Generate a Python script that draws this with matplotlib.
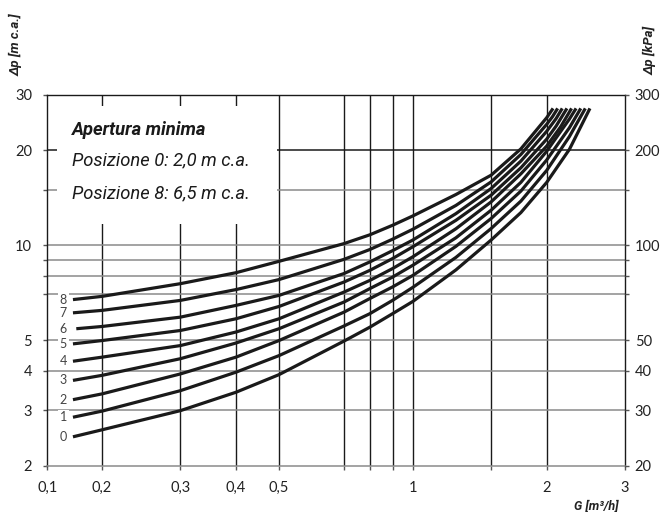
import matplotlib
matplotlib.use('Agg')
import matplotlib.pyplot as plt
from matplotlib.patches import Rectangle

# flow G [m3/h] and pressure drop dp [m c.a.], one pair of lists per position
g_low = [0.2, 0.3, 0.4, 0.5, 0.7, 0.8, 0.9, 1.0, 1.25, 1.5, 1.75, 2.0]

g0 = [0.172] + g_low + [2.25, 2.502]
dp0 = [2.47, 2.60, 2.99, 3.42, 3.89, 4.97, 5.50, 6.07, 6.64, 8.36, 10.4, 12.71, 15.84, 20.17, 27.2]
g1 = [0.172] + g_low + [2.25, 2.443]
dp1 = [2.85, 2.98, 3.46, 3.96, 4.47, 5.55, 6.07, 6.69, 7.36, 9.16, 11.31, 13.82, 17.29, 22.15, 27.2]
g2 = [0.172] + g_low + [2.25, 2.386]
dp2 = [3.24, 3.38, 3.91, 4.42, 4.99, 6.14, 6.78, 7.38, 8.03, 9.93, 12.17, 14.87, 18.66, 23.62, 27.2]
g3 = [0.172] + g_low + [2.25, 2.329]
dp3 = [3.73, 3.87, 4.37, 4.90, 5.44, 6.61, 7.29, 7.93, 8.65, 10.57, 12.93, 15.85, 19.89, 25.17, 27.2]
g4 = [0.172] + g_low + [2.15, 2.275]
dp4 = [4.29, 4.42, 4.81, 5.31, 5.85, 7.11, 7.74, 8.44, 9.20, 11.29, 13.74, 16.87, 20.65, 23.78, 27.2]
g5 = [0.172] + g_low + [2.1, 2.221]
dp5 = [4.87, 4.99, 5.37, 5.85, 6.40, 7.65, 8.33, 9.08, 9.90, 12.01, 14.43, 17.63, 21.73, 23.90, 27.2]
g6 = [0.175] + g_low + [2.1, 2.168]
dp6 = [5.44, 5.53, 5.92, 6.45, 6.94, 8.14, 8.86, 9.62, 10.4, 12.61, 15.15, 18.51, 23.01, 25.25, 27.2]
g7 = [0.172] + g_low + [2.06, 2.117]
dp7 = [6.11, 6.22, 6.69, 7.24, 7.79, 9.03, 9.70, 10.46, 11.25, 13.39, 15.9, 19.43, 24.21, 25.58, 27.2]
g8 = [0.172] + g_low + [2.067]
dp8 = [6.73, 6.89, 7.56, 8.19, 8.90, 10.13, 10.80, 11.58, 12.4, 14.50, 16.7, 20.24, 25.41, 27.2]

curves = [(g0, dp0), (g1, dp1), (g2, dp2), (g3, dp3), (g4, dp4),
          (g5, dp5), (g6, dp6), (g7, dp7), (g8, dp8)]

v_grid = [0.2, 0.3, 0.4, 0.5, 0.7, 0.8, 0.9, 1.0, 1.5, 2.0]
h_grid = [3, 4, 5, 7, 8, 9, 10, 15, 20]
x_ticks = [0.2, 0.3, 0.4, 0.5, 0.7, 0.8, 0.9, 1.0, 1.5, 2.0, 3.0]
x_labels = ['0,1', '0,2', '0,3', '0,4', '0,5', '', '', '', '1', '', '2', '3']
y_ticks = [2, 3, 4, 5, 7, 8, 9, 10, 15, 20, 30]
y_labels = ['2', '3', '4', '5', '', '', '', '10', '', '20', '30']
kpa_ticks = [20, 30, 40, 50, 70, 80, 90, 100, 150, 200, 300]
kpa_labels = ['20', '30', '40', '50', '', '', '', '100', '', '200', '300']

narrow = ['Roboto', 'DejaVu Sans']
plt.rcParams['font.family'] = ['Lato', 'DejaVu Sans']

fig = plt.figure(figsize=(6.69, 5.12), dpi=100)
ax = fig.add_axes([0.0707, 0.0904, 0.8635, 0.7241])
ax.set_xscale('log')
ax.set_yscale('log')
ax.set_xlim(0.1506, 3)
ax.set_ylim(2, 30)
ax.minorticks_off()

for g in v_grid:
    ax.axvline(g, color='#1a1a1a', lw=1.0, zorder=1)
for h in h_grid:
    ax.axhline(h, color='#1a1a1a' if h == 20 else '#8a8a8a', lw=1.1, zorder=1)

for side in ['left', 'top', 'right']:
    ax.spines[side].set_color('#1a1a1a')
    ax.spines[side].set_linewidth(1.0)
ax.spines['bottom'].set_color('#8a8a8a')
ax.spines['bottom'].set_linewidth(1.1)

# white box behind the note
ax.add_patch(Rectangle((0.0168, 0.6512), 0.381, 0.319, transform=ax.transAxes,
                       facecolor='white', edgecolor='none', zorder=2))
ax.text(0.0428, 0.9056, 'Apertura minima', transform=ax.transAxes, family=narrow,
        fontsize=13.2, fontweight='bold', style='italic', va='center', color='#1a1a1a', zorder=5)
ax.text(0.0428, 0.8247, 'Posizione 0: 2,0 m c.a.', transform=ax.transAxes, family=narrow,
        fontsize=13.2, style='italic', va='center', color='#1a1a1a', zorder=5)
ax.text(0.0428, 0.7356, 'Posizione 8: 6,5 m c.a.', transform=ax.transAxes, family=narrow,
        fontsize=13.2, style='italic', va='center', color='#1a1a1a', zorder=5)

for i, (G, dp) in enumerate(curves):
    ax.plot(G, dp, color='#1a1a1a', lw=2.3, solid_capstyle='butt',
            solid_joinstyle='round', zorder=3)
    ax.text(0.1636, dp[0], str(i), ha='center', va='center', fontsize=9, color='#444444',
            bbox=dict(facecolor='white', edgecolor='none', pad=1.2), zorder=4)

ax.set_xticks([ax.get_xlim()[0]] + x_ticks)
ax.set_xticklabels(x_labels)
ax.set_yticks(y_ticks)
ax.set_yticklabels(y_labels)
ax.tick_params(axis='both', which='major', direction='out', length=3, width=1,
               color='#555555', labelsize=10.5, labelcolor='#222222', pad=8)
ax.tick_params(axis='y', right=True)

ax2 = ax.twinx()
ax2.set_yscale('log')
ax2.set_ylim(20, 300)
ax2.minorticks_off()
ax2.set_yticks(kpa_ticks)
ax2.set_yticklabels(kpa_labels)
ax2.tick_params(axis='y', direction='out', length=3, width=1, color='#555555',
                labelsize=10.5, labelcolor='#222222', pad=4)
for s in ax2.spines.values():
    s.set_visible(False)

fig.text(0.0239, 0.912, '\u0394p [m c.a.]', rotation=90, ha='center', va='center',
         family=narrow, fontsize=9.5, fontweight='bold', style='italic', color='#222222')
fig.text(0.9716, 0.9023, '\u0394p [kPa]', rotation=90, ha='center', va='center',
         family=narrow, fontsize=9.5, fontweight='bold', style='italic', color='#222222')
fig.text(0.8909, 0.011, 'G [m\u00b3/h]', ha='center', va='center',
         family=narrow, fontsize=9, fontweight='bold', style='italic', color='#222222')

fig.savefig('out.png', dpi=100)
